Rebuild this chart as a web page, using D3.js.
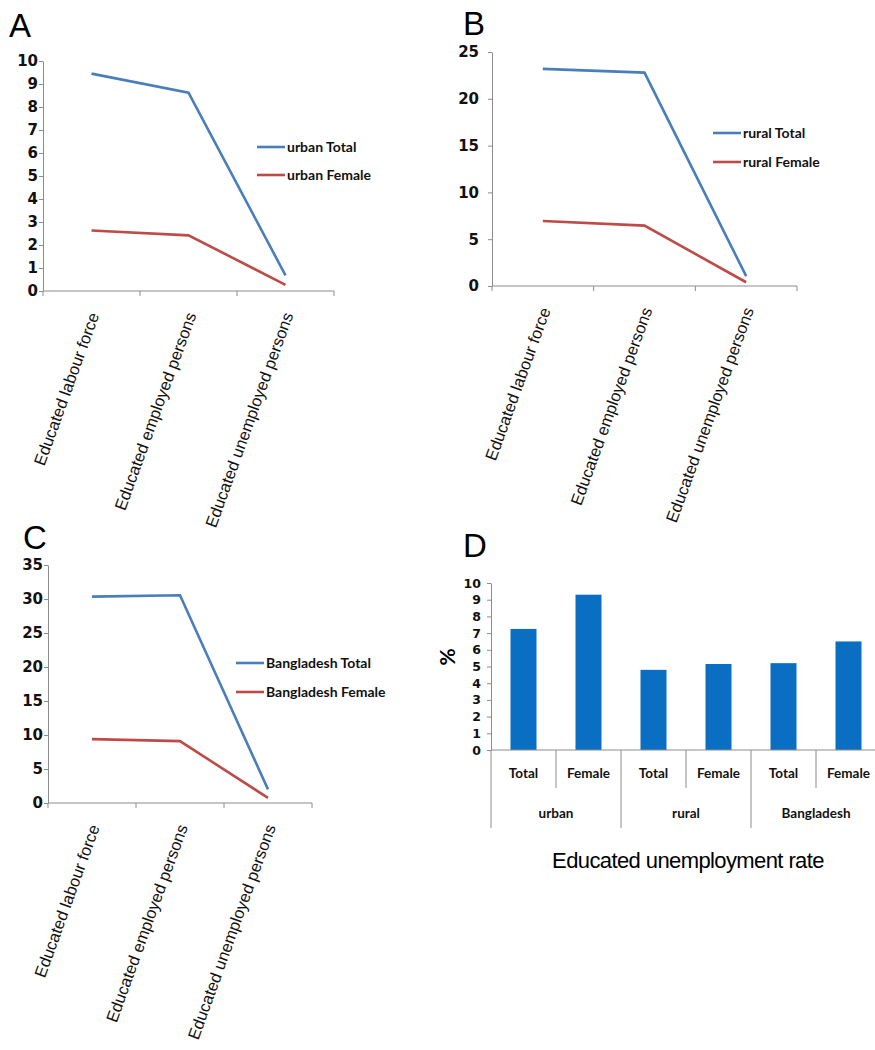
<!DOCTYPE html>
<html>
<head>
<meta charset="utf-8">
<script src="https://cdn.jsdelivr.net/npm/d3@7"></script>
<style>
    body { margin: 0; background: #fff; }
    .axis path, .axis line { stroke: #8c8c8c; stroke-width: 1; }
    .catLabel { font-family: "Liberation Sans", Arial, sans-serif; font-size: 16.5px; fill: #111; }
    .legendText { font-family: Lato, "Open Sans", sans-serif; font-weight: bold; font-size: 14px; fill: #111; }
    .panelLetter { font-family: "Liberation Sans", Arial, sans-serif; font-size: 33px; fill: #000; }
    .barLabel { font-family: Lato, "Open Sans", sans-serif; font-weight: bold; font-size: 13.5px; fill: #111; }
</style>
</head>
<body>
<div class="figure"></div>
<script>
// ----- DATA ---------------------------------------------------------------
const lineCategories = ["Educated labour force", "Educated employed persons", "Educated unemployed persons"];

const urbanTotal  = [9.45, 8.62, 0.68];
const urbanFemale = [2.63, 2.42, 0.27];
const ruralTotal  = [23.2, 22.8, 1.05];
const ruralFemale = [6.95, 6.45, 0.4];
const bdTotal     = [30.35, 30.55, 2.0];
const bdFemale    = [9.4, 9.1, 0.75];

const ticksA = [0, 1, 2, 3, 4, 5, 6, 7, 8, 9, 10];
const ticksB = [0, 5, 10, 15, 20, 25];
const ticksC = [0, 5, 10, 15, 20, 25, 30, 35];
const ticksD = [0, 1, 2, 3, 4, 5, 6, 7, 8, 9, 10];

const barGroups = ["urban", "rural", "Bangladesh"];
const barSexes  = ["Total", "Female"];
const barValues = [7.25, 9.3, 4.8, 5.15, 5.2, 6.5];

const BLUE = "#4a7ebb";
const RED = "#be4b48";
const BAR_BLUE = "#0a6fc2";

// ----- CHART --------------------------------------------------------------
let svg = d3.select(".figure").append("svg")
            .attr("width", 875)
            .attr("height", 1050);

// bold tick labels, set inline so the axis defaults don't win
function _styleTicks( sel, size )
{
    sel.selectAll(".tick text")
        .style("font-family", "'DejaVu Sans', sans-serif")
        .style("font-weight", "bold")
        .style("font-size", size + "px")
        .style("fill", "#111");
}

function _drawLinePanel( opts )
{
    let x = d3.scaleBand()
        .domain(lineCategories)
        .range([opts.x0, opts.x1]);

    let y = d3.scaleLinear()
        .domain([0, opts.yMax])
        .range([opts.yBottom, opts.yTop]);

    let g = svg.append("g");

    // y axis
    let yAxisGroup = g.append("g")
        .classed("axis", true)
        .attr("transform", "translate(" + opts.x0 + ",0)")
        .call(d3.axisLeft(y).tickValues(opts.ticks).tickSize(4).tickPadding(opts.pad).tickSizeOuter(0));

    _styleTicks(yAxisGroup, 15);

    // x axis with ticks at band edges
    let xAxis = g.append("g")
        .classed("axis", true)
        .attr("transform", "translate(0," + opts.yBottom + ")");

    xAxis.append("line")
        .attr("x1", opts.x0)
        .attr("x2", opts.x1);

    xAxis.selectAll(".edgeTick")
        .data(lineCategories.concat([null]))
        .enter()
            .append("line")
            .attr("x1", (d, i) => d ? x(d) : opts.x1)
            .attr("x2", (d, i) => d ? x(d) : opts.x1)
            .attr("y1", 0)
            .attr("y2", 5);

    // rotated category labels
    g.selectAll(".catLabel")
        .data(lineCategories)
        .enter()
            .append("text")
            .classed("catLabel", true)
            .attr("text-anchor", "end")
            .attr("transform", d =>
            {
                let cx = x(d) + x.bandwidth() / 2 + 8;
                return "translate(" + cx + "," + (opts.yBottom + 24) + ") rotate(-70)";
            })
            .text(d => d);

    // lines
    let line = d3.line()
        .x((d, i) => x(lineCategories[i]) + x.bandwidth() / 2)
        .y(d => y(d));

    [[opts.total, BLUE], [opts.female, RED]].forEach(s =>
    {
        g.append("path")
            .datum(s[0])
            .attr("d", line)
            .attr("fill", "none")
            .attr("stroke", s[1])
            .attr("stroke-width", 2.6);
    });

    // legend
    let legend = g.append("g")
        .attr("transform", "translate(" + opts.legendX + "," + opts.legendY + ")");

    [[opts.names[0], BLUE], [opts.names[1], RED]].forEach((s, i) =>
    {
        legend.append("line")
            .attr("x1", 0)
            .attr("x2", 28)
            .attr("y1", i * opts.legendGap)
            .attr("y2", i * opts.legendGap)
            .attr("stroke", s[1])
            .attr("stroke-width", 2.6);

        legend.append("text")
            .classed("legendText", true)
            .attr("x", 30)
            .attr("y", i * opts.legendGap)
            .attr("dy", "0.35em")
            .text(s[0]);
    });

    svg.append("text")
        .classed("panelLetter", true)
        .attr("x", opts.letterX)
        .attr("y", opts.letterY)
        .text(opts.letter);
}

_drawLinePanel({
    letter: "A", letterX: 9, letterY: 37,
    x0: 43, x1: 334, yTop: 61, yBottom: 291, yMax: 10, ticks: ticksA, pad: 1,
    total: urbanTotal, female: urbanFemale,
    names: ["urban Total", "urban Female"],
    legendX: 257, legendY: 147, legendGap: 28
});

_drawLinePanel({
    letter: "B", letterX: 463, letterY: 35,
    x0: 492, x1: 797, yTop: 52, yBottom: 286, yMax: 25, ticks: ticksB, pad: 9,
    total: ruralTotal, female: ruralFemale,
    names: ["rural Total", "rural Female"],
    legendX: 713, legendY: 133, legendGap: 29
});

_drawLinePanel({
    letter: "C", letterX: 23, letterY: 549,
    x0: 48, x1: 312, yTop: 565, yBottom: 803, yMax: 35, ticks: ticksC, pad: 1,
    total: bdTotal, female: bdFemale,
    names: ["Bangladesh Total", "Bangladesh Female"],
    legendX: 236, legendY: 663, legendGap: 29
});

// ----- PANEL D: bar chart ----------------------------------------------------
let barKeys = [];
barGroups.forEach(gr => barSexes.forEach(s => barKeys.push(gr + "|" + s)));

let xD = d3.scaleBand()
    .domain(barKeys)
    .range([491, 881]);

let yD = d3.scaleLinear()
    .domain([0, 10])
    .range([750, 583]);

let gD = svg.append("g");

let yAxisD = gD.append("g")
    .classed("axis", true)
    .attr("transform", "translate(491,0)")
    .call(d3.axisLeft(yD).tickValues(ticksD).tickSize(4).tickPadding(6).tickSizeOuter(0));

_styleTicks(yAxisD, 12.5);

gD.selectAll(".bar")
    .data(barValues)
    .enter()
        .append("rect")
        .attr("x", (d, i) => xD(barKeys[i]) + xD.bandwidth() * 0.3)
        .attr("y", d => yD(d))
        .attr("width", xD.bandwidth() * 0.4)
        .attr("height", d => yD(0) - yD(d))
        .attr("fill", BAR_BLUE);

// x axis line + divider lines
let xAxisD = gD.append("g").classed("axis", true);

xAxisD.append("line")
    .attr("x1", 491)
    .attr("x2", 875)
    .attr("y1", 750)
    .attr("y2", 750);

xAxisD.selectAll(".divider")
    .data(barKeys)
    .enter()
        .append("line")
        .attr("x1", d => xD(d))
        .attr("x2", d => xD(d))
        .attr("y1", 750)
        .attr("y2", (d, i) => i % 2 === 0 ? 828 : 788);

// sub-category labels
gD.selectAll(".sexLabel")
    .data(barKeys)
    .enter()
        .append("text")
        .classed("barLabel", true)
        .attr("x", d => xD(d) + xD.bandwidth() / 2)
        .attr("y", 773)
        .attr("dy", "0.35em")
        .attr("text-anchor", "middle")
        .text(d => d.split("|")[1]);

// group labels
gD.selectAll(".groupLabel")
    .data(barGroups)
    .enter()
        .append("text")
        .classed("barLabel", true)
        .attr("x", d => xD(d + "|Total") + xD.bandwidth())
        .attr("y", 813)
        .attr("dy", "0.35em")
        .attr("text-anchor", "middle")
        .text(d => d);

gD.append("text")
    .attr("transform", "translate(455,657) rotate(-90)")
    .attr("text-anchor", "middle")
    .style("font-family", "Lato, 'Open Sans', sans-serif")
    .style("font-weight", "bold")
    .style("font-size", "21px")
    .text("%");

gD.append("text")
    .attr("x", 688)
    .attr("y", 868)
    .attr("text-anchor", "middle")
    .style("font-family", "'Liberation Sans', Arial, sans-serif")
    .style("font-size", "22px")
    .style("letter-spacing", "-0.6px")
    .text("Educated unemployment rate");

svg.append("text")
    .classed("panelLetter", true)
    .attr("x", 463)
    .attr("y", 557)
    .text("D");
</script>
</body>
</html>
